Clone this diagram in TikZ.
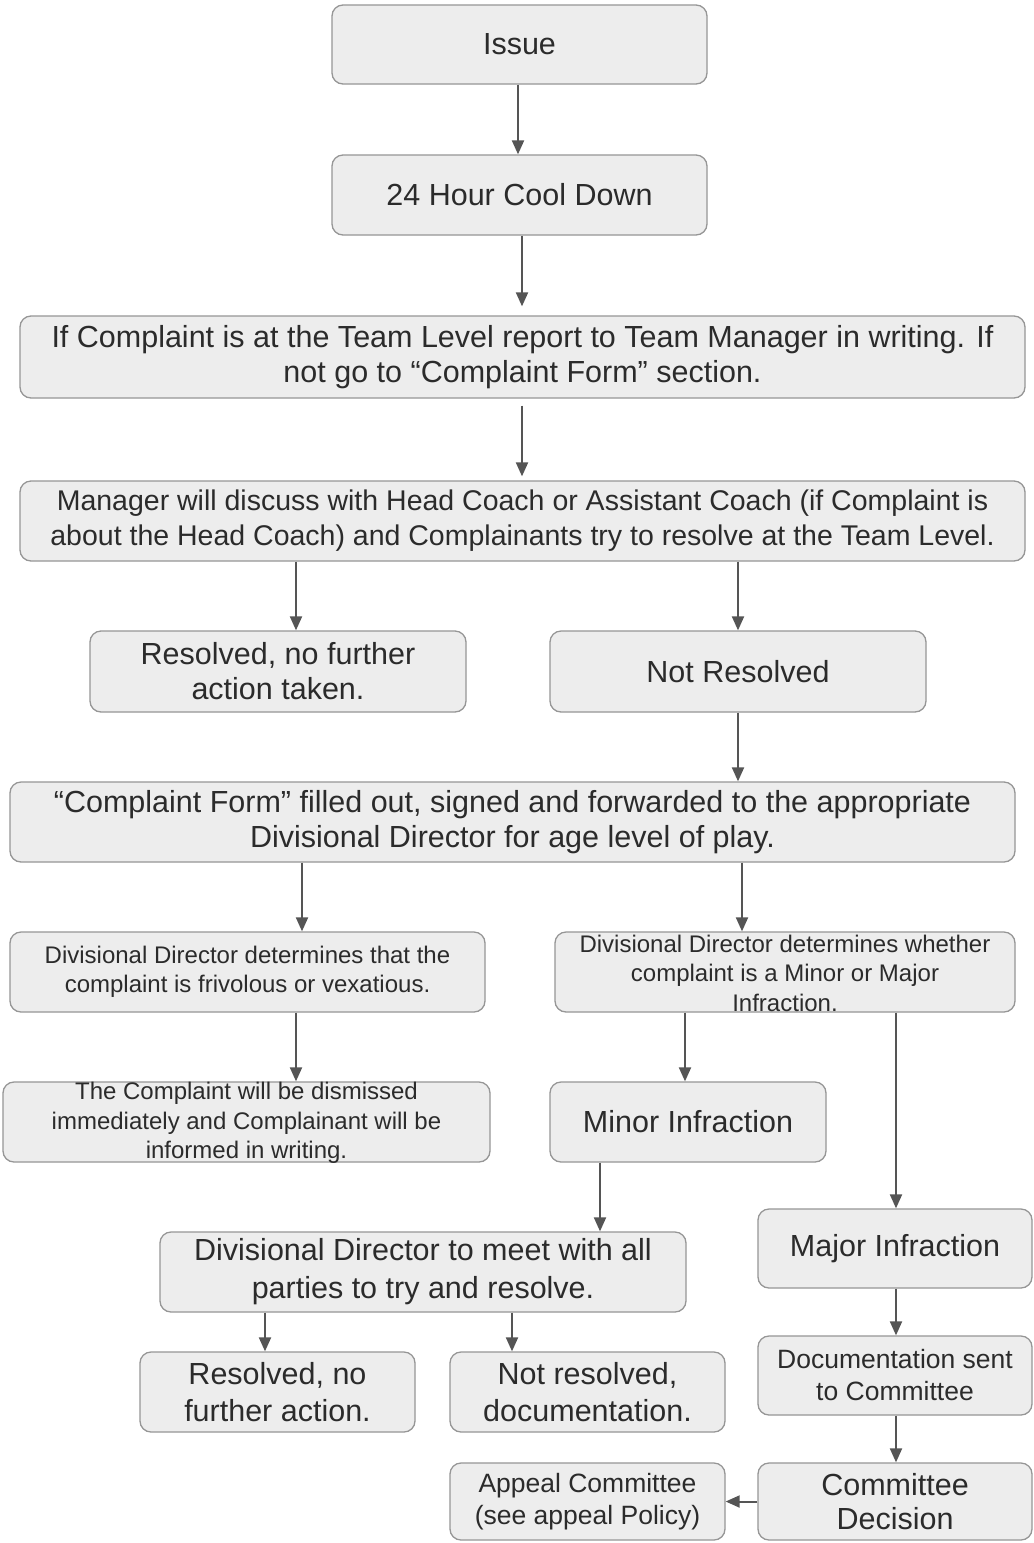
\documentclass[tikz,border=0pt]{standalone}
\usepackage{fontspec}
\setmainfont{Liberation Sans}
\usetikzlibrary{arrows.meta}
\definecolor{boxfill}{HTML}{EDEDED}
\definecolor{boxline}{HTML}{969696}
\definecolor{arrc}{HTML}{555555}
\definecolor{txt}{HTML}{2B2B2B}
\tikzset{
  box/.style={draw=boxline, fill=boxfill, rounded corners=11pt, line width=1.3pt,
    inner sep=0pt, align=center, text=txt},
  fm/.style={font=\fontsize{30.5}{35}\selectfont},
  fs/.style={font=\fontsize{24}{29.5}\selectfont},
  fmd/.style={font=\fontsize{26.5}{32}\selectfont},
  arr/.style={draw=arrc, line width=2pt, -{Triangle[length=14pt,width=12pt]}}
}
\begin{document}
\begin{tikzpicture}[x=1pt,y=-1pt]
\useasboundingbox (0,0) rectangle (1034,1543);
\fill[white] (0,0) rectangle (1034,1543);

\node[box,fm,minimum width=375pt,minimum height=79pt] (n1) at (519.5,44.5) {Issue};
\node[box,fm,minimum width=375pt,minimum height=80pt] (n2) at (519.5,195) {24 Hour Cool Down};
\node[box,fm,minimum width=1005pt,minimum height=82pt] (n3) at (522.5,357)
  {If Complaint is at the Team Level report to Team Manager in writing. If\\not go to “Complaint Form” section.};
\node[box,font=\fontsize{28.5}{35}\selectfont,minimum width=1005pt,minimum height=80pt] (n4) at (522.5,521)
  {Manager will discuss with Head Coach or Assistant Coach (if Complaint is\\about the Head Coach) and Complainants try to resolve at the Team Level.};
\node[box,fm,minimum width=376pt,minimum height=81pt] (n5) at (278,671.5) {Resolved, no further\\action taken.};
\node[box,fm,minimum width=376pt,minimum height=81pt] (n6) at (738,671.5) {Not Resolved};
\node[box,fm,minimum width=1005pt,minimum height=80pt] (n7) at (512.5,822)
  {“Complaint Form” filled out, signed and forwarded to the appropriate\\Divisional Director for age level of play.};
\node[box,fs,minimum width=475pt,minimum height=80pt] (n8) at (247.5,972)
  {Divisional Director determines that the\\complaint is frivolous or vexatious.};
\node[box,minimum width=460pt,minimum height=80pt,
  label={[fs,text=txt,align=center,yshift=-1pt]center:Divisional Director determines whether\\complaint is a Minor or Major\\Infraction.}] (n9) at (785,972) {};
\node[box,minimum width=487pt,minimum height=80pt,
  label={[fs,text=txt,align=center,yshift=-1pt]center:The Complaint will be dismissed\\immediately and Complainant will be\\informed in writing.}] (n10) at (246.5,1122) {};
\node[box,fm,minimum width=276pt,minimum height=80pt] (n11) at (688,1122) {Minor Infraction};
\node[box,fm,minimum width=274pt,minimum height=79pt] (n12) at (895,1248.5) {Major Infraction};
\node[box,font=\fontsize{30.5}{38}\selectfont,minimum width=526pt,minimum height=80pt] (n13) at (423,1272)
  {Divisional Director to meet with all\\parties to try and resolve.};
\node[box,font=\fontsize{30.5}{37}\selectfont,minimum width=275pt,minimum height=80pt] (n14) at (277.5,1392)
  {Resolved, no\\further action.};
\node[box,font=\fontsize{30.5}{37}\selectfont,minimum width=275pt,minimum height=80pt] (n15) at (587.5,1392)
  {Not resolved,\\documentation.};
\node[box,fmd,minimum width=274pt,minimum height=79pt] (n16) at (895,1375.5)
  {Documentation sent\\to Committee};
\node[box,fmd,minimum width=275pt,minimum height=77pt] (n17) at (587.5,1501.5)
  {Appeal Committee\\(see appeal Policy)};
\node[box,font=\fontsize{30.5}{34}\selectfont,minimum width=274pt,minimum height=77pt] (n18) at (895,1501.5)
  {Committee\\Decision};

\draw[arr] (518,0 |- n1.south) -- (518,0 |- n2.north);
\draw[arr,shorten >=9pt] (522,0 |- n2.south) -- (522,0 |- n3.north);
\draw[arr,shorten <=7pt,shorten >=4pt] (522,0 |- n3.south) -- (522,0 |- n4.north);
\draw[arr] (296,0 |- n4.south) -- (296,0 |- n5.north);
\draw[arr] (738,0 |- n4.south) -- (738,0 |- n6.north);
\draw[arr] (738,0 |- n6.south) -- (738,0 |- n7.north);
\draw[arr] (302,0 |- n7.south) -- (302,0 |- n8.north);
\draw[arr] (742,0 |- n7.south) -- (742,0 |- n9.north);
\draw[arr] (296,0 |- n8.south) -- (296,0 |- n10.north);
\draw[arr] (685,0 |- n9.south) -- (685,0 |- n11.north);
\draw[arr] (896,0 |- n9.south) -- (896,0 |- n12.north);
\draw[arr] (600,0 |- n11.south) -- (600,0 |- n13.north);
\draw[arr] (265,0 |- n13.south) -- (265,0 |- n14.north);
\draw[arr] (512,0 |- n13.south) -- (512,0 |- n15.north);
\draw[arr] (896,0 |- n12.south) -- (896,0 |- n16.north);
\draw[arr] (896,0 |- n16.south) -- (896,0 |- n18.north);
\draw[arr] (n18.west) -- (n17.east);
\end{tikzpicture}
\end{document}
